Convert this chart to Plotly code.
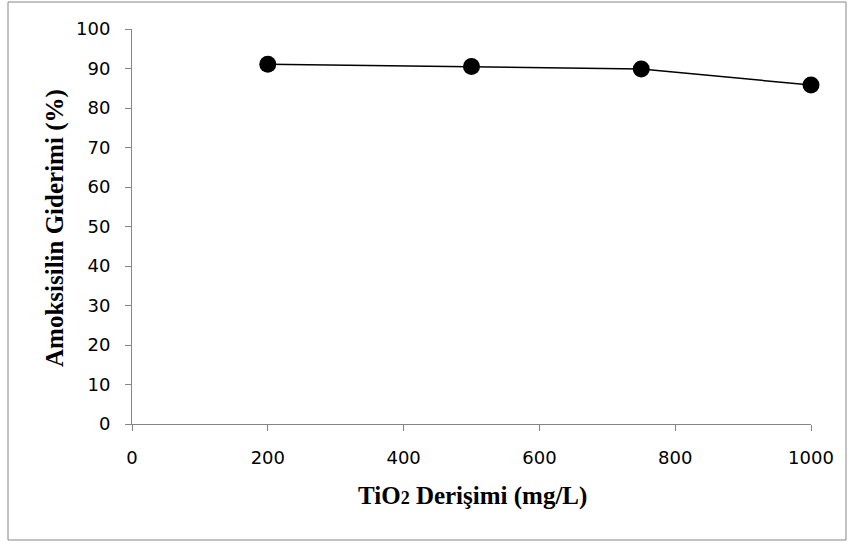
import plotly.graph_objects as go

# TiO2 concentration (mg/L) and amoxicillin removal (%)
tio2_conc = [200, 500, 750, 1000]
removal = [91.1, 90.5, 89.9, 85.8]

x_ticks = [0, 200, 400, 600, 800, 1000]
y_ticks = [0, 10, 20, 30, 40, 50, 60, 70, 80, 90, 100]

W, H = 850, 544
L, R, T, B = 132, 39, 29, 120
pw, ph = W - L - R, H - T - B

fig = go.Figure()
fig.add_trace(go.Scatter(
    x=tio2_conc, y=removal, mode="lines+markers",
    line=dict(color="black", width=1.5),
    marker=dict(color="black", size=17, symbol="circle"),
    cliponaxis=False, showlegend=False,
))

tick_font = dict(family="DejaVu Sans, sans-serif", size=18, color="black")
title_font = dict(family="Liberation Serif, Times New Roman, serif", size=25, color="black")
axis_grey = "#868686"

fig.update_xaxes(
    range=[0, 1000], tickvals=x_ticks, ticktext=[str(v) for v in x_ticks],
    showgrid=False, zeroline=False, showline=True, linecolor=axis_grey, linewidth=1,
    ticks="outside", ticklen=6, tickcolor=axis_grey, tickfont=tick_font,
    ticklabelstandoff=11,
)
fig.update_yaxes(
    range=[0, 100], tickvals=y_ticks, ticktext=[str(v) for v in y_ticks],
    showgrid=False, zeroline=False, showline=True, linecolor=axis_grey, linewidth=1,
    ticks="outside", ticklen=6, tickcolor=axis_grey, tickfont=tick_font,
    ticklabelstandoff=11,
)

# axis titles
fig.add_annotation(
    text="<b>TiO<span style='font-size:18px'>2</span> Derişimi (mg/L)</b>",
    xref="paper", yref="paper", x=(472 - L) / pw, y=(H - B - 496) / ph,
    showarrow=False, font=title_font, xanchor="center", yanchor="middle",
)
fig.add_annotation(
    text="<b>Amoksisilin Giderimi (%)</b>",
    xref="paper", yref="paper", x=(55 - L) / pw, y=(H - B - 228) / ph,
    showarrow=False, font=title_font, textangle=-90, xanchor="center", yanchor="middle",
)

# outer chart border
fig.add_shape(
    type="rect", xref="paper", yref="paper",
    x0=(8 - L) / pw, x1=(846 - L) / pw,
    y0=(H - B - 540) / ph, y1=(H - B - 2) / ph,
    line=dict(color=axis_grey, width=1), fillcolor="rgba(0,0,0,0)", layer="below",
)

fig.update_layout(
    width=W, height=H,
    margin=dict(l=L, r=R, t=T, b=B),
    plot_bgcolor="white", paper_bgcolor="white",
)

fig.write_html("out.html")
